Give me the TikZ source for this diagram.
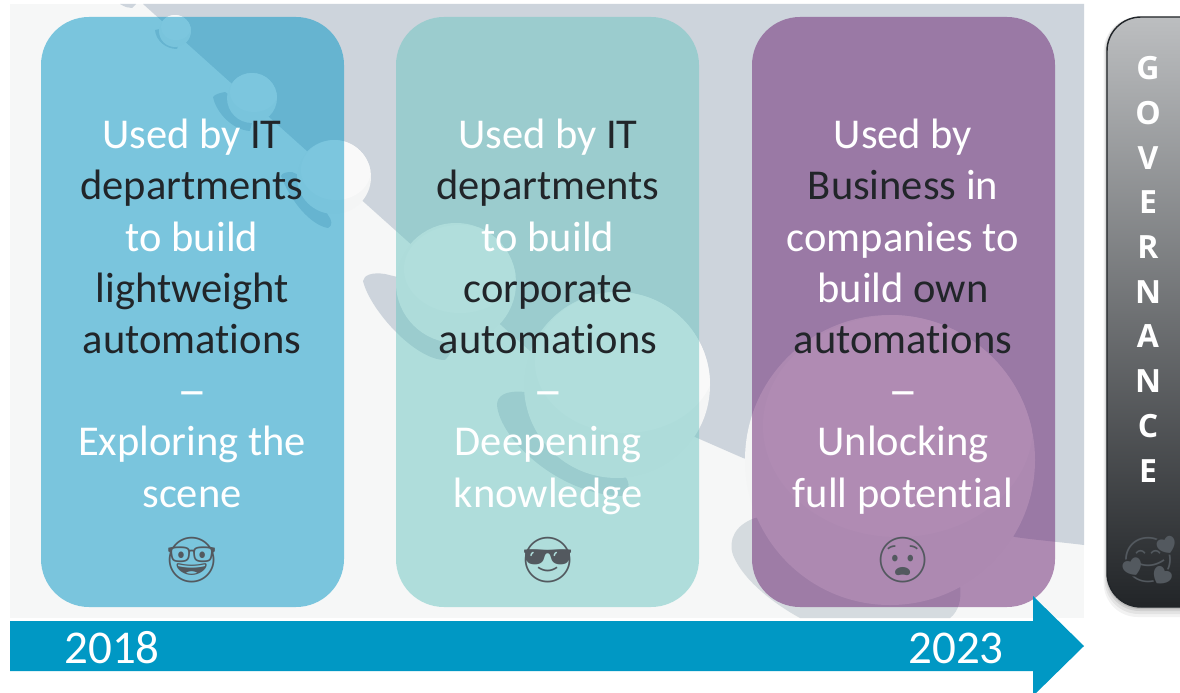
\documentclass[tikz,border=0pt]{standalone}
\usepackage{fontspec}
\setmainfont[Ligatures=NoCommon]{Carlito}
\newfontfamily\govfont{Open Sans}
\newfontfamily\emojifont{Noto Emoji}
\definecolor{ink}{HTML}{212529}
\definecolor{bgpale}{HTML}{F6F7F7}
\definecolor{slate}{HTML}{CDD4DC}
\definecolor{slatepale}{HTML}{D5DBDF}
\definecolor{ballout}{HTML}{F4F5F5}
\definecolor{ballin}{HTML}{F9F9F9}
\definecolor{cardblue}{HTML}{0095C5}
\definecolor{cardteal}{HTML}{6AC5C1}
\definecolor{cardplum}{HTML}{681F6F}
\definecolor{arrowblue}{HTML}{0098C4}
\definecolor{emojigrey}{HTML}{53595F}
\definecolor{pilltop}{HTML}{BCBEC0}
\definecolor{pillbottom}{HTML}{222528}
\tikzset{
  card/.style={rectangle,rounded corners=48pt,minimum width=303pt,minimum height=590pt,inner sep=0pt,fill opacity=.5,draw=none},
  cardtext/.style={text=white,align=center,inner sep=0pt,font=\fontsize{42.5}{51.2}\selectfont},
  mood/.style={text=emojigrey,inner sep=0pt,font=\emojifont\fontsize{45}{45}\selectfont},
  year/.style={text=white,inner sep=0pt,font=\fontsize{47}{47}\selectfont},
  crescent/.style={fill=slate,draw=none},
}
\newcommand{\dk}[1]{{\color{ink}#1}}
\newcommand{\wdash}{\raisebox{-3pt}{\scalebox{1.4}[1.2]{–}}}
\begin{document}
\begin{tikzpicture}[x=1pt,y=-1pt]
\useasboundingbox (0,0) rectangle (1180,693);
\fill[white] (0,0) rectangle (1180,693);
% backdrop
\begin{scope}
\clip (10,4) rectangle (1084,618);
\fill[bgpale] (10,4) rectangle (1084,618);
% crescent shadows
\fill[crescent] (120,4) .. controls (125,7) and (128,8) .. (132,8) -- (136,4) -- cycle;
\fill[crescent] (155,30) .. controls (156,41) and (166,49) .. (177,49) -- (180,40) -- (165,28) -- cycle;
\fill[crescent] (213,97) .. controls (216,112) and (232,130) .. (250,131) -- (255,110) -- (225,92) .. controls (220,93) and (215,94) .. (213,97) -- cycle;
\fill[crescent] (281,176) .. controls (290,200) and (310,225) .. (328,228) .. controls (333,226) and (332,220) .. (328,215) -- (310,180) -- (292,172) .. controls (286,172) and (282,173) .. (281,176) -- cycle;
\fill[crescent] (363,281) .. controls (370,310) and (415,360) .. (445,360) .. controls (455,350) and (455,340) .. (440,330) -- (410,280) -- (385,274) .. controls (372,272) and (364,275) .. (363,281) -- cycle;
\fill[crescent] (497,405) .. controls (500,440) and (560,495) .. (622,496) .. controls (632,490) and (630,480) .. (620,470) -- (550,400) -- (525,392) .. controls (505,390) and (497,396) .. (497,405) -- cycle;
\fill[slatepale] (755,518) .. controls (735,525) and (728,540) .. (733,555) .. controls (745,585) and (785,610) .. (800,618) -- (950,618) .. controls (958,612) and (962,600) .. (960,585) -- (850,500) -- cycle;
% slate field
\fill[slate] (143,4) -- (1084,4) -- (1084,545) .. controls (1060,542) and (1035,540) .. (1015,537) -- (743,458) -- (695,437) -- (540,360) -- cycle;
% balls
\foreach \cx/\cy/\r/\ix/\iy/\irx/\iry in {175/31/16/176/27/15/13, 252/98/25/254/92/24/20, 334/177/37/336/170/35/30, 456/283/60/460/269/56/44, 617/385/93/625/362/90/71, 890/460/145/898/426/135/111}{
  \fill[ballout] (\cx,\cy) circle[radius=\r];
  \begin{scope}
    \clip (\cx,\cy) circle[radius=\r];
    \fill[ballin] (\ix,\iy) ellipse[x radius=\irx,y radius=\iry];
  \end{scope}
}
\end{scope}
% cards
\node[card,fill=cardblue] (cardA) at (192.5,312) {};
\node[card,fill=cardteal] (cardB) at (547.5,312) {};
\node[card,fill=cardplum] (cardC) at (903.5,312) {};
% texts
\node[cardtext,anchor=base] (textA) at (192,507) {Used by \dk{IT}\\\dk{departments}\\to build\\\dk{lightweight}\\\dk{automations}\\\wdash\\Exploring the\\scene};
\node[cardtext,anchor=base] (textB) at (548,507) {Used by \dk{IT}\\\dk{departments}\\to build\\\dk{corporate}\\\dk{automations}\\\wdash\\Deepening\\knowledge};
\node[cardtext,anchor=base] (textC) at (903,507) {Used by\\\dk{Business} in\\companies to\\build \dk{own}\\\dk{automations}\\\wdash\\Unlocking\\full potential};
% mood icons
\node[mood] (moodA) at (192,560) {🤓};
\node[mood] (moodB) at (548,560) {😎};
\node[mood] (moodC) at (903,560) {😧};
% timeline arrow
\begin{scope}
\clip (0,0) rectangle (1180,693);
\fill[arrowblue] (10,621) -- (1033,621) -- (1033,596) -- (1084,646) -- (1033,696) -- (1033,671) -- (10,671) -- cycle;
\end{scope}
\node[year] (yearA) at (112,648) {2018};
\node[year] (yearB) at (956,648) {2023};
% governance pill
\begin{scope}
\clip (1095,0) rectangle (1180,640);
\foreach \g/\o in {10/.05,7/.06,4/.08,2/.1}{
  \fill[black,opacity=\o,rounded corners=34pt] (1107-\g/3,17) rectangle (1260,607+\g);
}
\path[rounded corners=34pt,top color=pilltop,bottom color=pillbottom] (1107,17) rectangle (1260,607);
\draw[rounded corners=34pt,draw=ink,line width=1.4pt] (1107,17) -- (1107,607) -- (1260,607) -- (1260,17) -- cycle;
\end{scope}
\node[inner sep=0pt,anchor=base,align=center,text=white,font=\govfont\bfseries\fontsize{32}{44.7}\selectfont] (gov) at (1148,482) {G\\O\\V\\E\\R\\N\\A\\N\\C\\E};
\node[mood] (moodD) at (1149,560) {🥰};
\end{tikzpicture}
\end{document}
